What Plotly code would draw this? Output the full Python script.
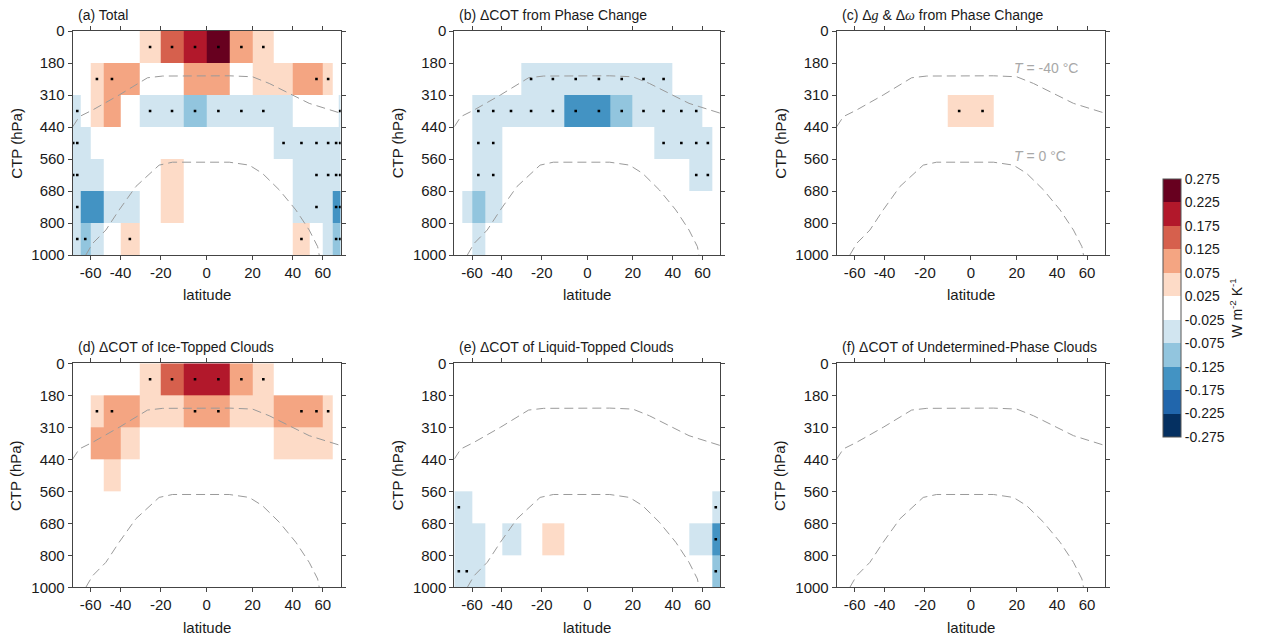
import numpy as np
import plotly.graph_objects as go

# ---------------- data ----------------
lat_edges = list(range(-90, 91, 10))          # 18 latitude bins
lat_centers = list(range(-85, 86, 10))
ctp_edges = [0, 180, 310, 440, 560, 680, 800, 1000]
ctp_labels = ["0", "180", "310", "440", "560", "680", "800", "1000"]
lat_ticks = [-60, -40, -20, 0, 20, 40, 60]
lat_ticklabels = ["-60", "-40", "-20", "0", "20", "40", "60"]

panel_titles = [
    "(a) Total",
    "(b) ΔCOT from Phase Change",
    "(c) Δ<span style='font-family:Liberation Serif'><i>g</i></span> & Δ<span style='font-family:Liberation Serif'><i>ω</i></span> from Phase Change",
    "(d) ΔCOT of Ice-Topped Clouds",
    "(e) ΔCOT of Liquid-Topped Clouds",
    "(f) ΔCOT of Undetermined-Phase Clouds",
]

# rows: CTP bins (0-180 ... 800-1000); columns: latitude bins -85 ... 85
total = [
    [0, 0, 0, 0, 0, 0, .05, .15, .2, .25, .1, .05, 0, 0, 0, 0, 0, 0],
    [0, 0, 0, .05, .1, .1, 0, 0, .1, .1, 0, .05, .05, .1, .1, .05, 0, 0],
    [-.05, -.05, 0, .05, .1, 0, -.05, -.05, -.1, -.05, -.05, -.05, -.05, 0, 0, 0, 0, -.05],
    [-.05, -.05, -.05, 0, 0, 0, 0, 0, 0, 0, 0, 0, -.05, -.05, -.05, -.05, -.05, -.05],
    [-.05, -.05, -.05, -.05, 0, 0, 0, .05, 0, 0, 0, 0, 0, -.05, -.05, -.05, -.05, -.05],
    [-.05, -.05, -.15, -.15, -.05, -.05, 0, .05, 0, 0, 0, 0, 0, -.05, -.05, -.05, -.15, -.15],
    [-.05, -.05, -.1, -.05, 0, .05, 0, 0, 0, 0, 0, 0, 0, .05, 0, -.05, -.1, -.1],
]
cot_phase = [
    [0] * 18,
    [0, 0, 0, 0, 0, 0, -.05, -.05, -.05, -.05, -.05, -.05, -.05, 0, 0, 0, 0, 0],
    [0, 0, 0, -.05, -.05, -.05, -.05, -.05, -.15, -.15, -.1, -.05, -.05, -.05, -.05, 0, 0, 0],
    [0, 0, 0, -.05, -.05, 0, 0, 0, 0, 0, 0, 0, -.05, -.05, -.05, -.05, 0, 0],
    [0, 0, 0, -.05, -.05, 0, 0, 0, 0, 0, 0, 0, 0, 0, -.05, -.05, 0, 0],
    [0, 0, -.05, -.1, -.05, 0, 0, 0, 0, 0, 0, 0, 0, 0, 0, 0, 0, 0],
    [0, 0, 0, -.05, 0, 0, 0, 0, 0, 0, 0, 0, 0, 0, 0, 0, 0, 0],
]
g_omega_phase = [
    [0] * 18,
    [0] * 18,
    [0, 0, 0, 0, 0, 0, 0, 0, .05, .05, 0, 0, 0, 0, 0, 0, 0, 0],
    [0] * 18,
    [0] * 18,
    [0] * 18,
    [0] * 18,
]
cot_ice = [
    [0, 0, 0, 0, 0, 0, .05, .15, .2, .2, .1, .05, 0, 0, 0, 0, 0, 0],
    [0, 0, 0, .05, .1, .1, .05, .05, .1, .1, .05, .05, .1, .1, .1, .05, 0, 0],
    [0, 0, 0, .1, .1, .05, 0, 0, 0, 0, 0, 0, .05, .05, .05, .05, 0, 0],
    [0, 0, 0, 0, .05, 0, 0, 0, 0, 0, 0, 0, 0, 0, 0, 0, 0, 0],
    [0] * 18,
    [0] * 18,
    [0] * 18,
]
cot_liquid = [
    [0] * 18,
    [0] * 18,
    [0] * 18,
    [0] * 18,
    [-.05, -.05, -.05, 0, 0, 0, 0, 0, 0, 0, 0, 0, 0, 0, 0, 0, -.05, -.05],
    [-.05, -.05, -.05, -.05, 0, -.05, 0, .05, 0, 0, 0, 0, 0, 0, -.05, -.05, -.15, -.15],
    [-.05, -.05, -.05, -.05, 0, 0, 0, 0, 0, 0, 0, 0, 0, 0, 0, 0, -.1, -.1],
]
cot_undet = [[0] * 18 for _ in range(7)]

# significance stippling: (CTP bin row, latitude of bin centre)
dots_total = {0: [-25, -15, -5, 5, 15, 25], 1: [-55, -45, 55, 65],
              2: [-75, -25, -15, -5, 5, 15, 25, 85],
              3: [-85, -75, 35, 45, 55, 65, 75, 85],
              4: [-85, -75, 55, 65, 75, 85], 5: [-75, 55, 75, 85],
              6: [-75, -65, -35, 45, 75, 85]}
dots_cot_phase = {1: [-25, -15, -5, 5, 15, 25, 35],
                  2: [-55, -45, -35, -25, -15, -5, 5, 15, 25, 35, 45, 55],
                  3: [-55, -45, 35, 45, 55, 65], 4: [-55, -45, 55, 65]}
dots_g_omega = {2: [-5, 5]}
dots_ice = {0: [-25, -15, -5, 5, 15, 25], 1: [-55, -45, -5, 5, 45, 55, 65]}
dots_liquid = {4: [-75, 75], 5: [75], 6: [-75, -65, 75]}
dots_undet = {}

# isotherms (latitude, pressure hPa)
t40_lat = [-90, -72, -58.4, -40.8, -26.2, -19.2, 9.7, 20, 27.8, 38, 49.9, 90]
t40_hpa = [439, 398, 371, 310, 240, 233, 232, 236, 263, 304, 344, 384]
t0_lat = [-64.4, -58.4, -48.8, -40.8, -31.9, -20.8, -14.8, 9.7, 18.5, 24.6, 32.8, 41.7, 49.9, 53.3, 55.9, 57.1]
t0_hpa = [1000, 928, 844, 751, 663, 583, 572, 572, 583, 614, 676, 751, 844, 906, 948, 1000]

cbar_ticks = [-0.275, -0.225, -0.175, -0.125, -0.075, -0.025, 0.025, 0.075, 0.125, 0.175, 0.225, 0.275]
cbar_colors = ["#053061", "#2166ac", "#4393c3", "#92c5de", "#d1e5f0", "#ffffff",
               "#fddbc7", "#f4a582", "#d6604d", "#b2182b", "#67001f"]

panels = [total, cot_phase, g_omega_phase, cot_ice, cot_liquid, cot_undet]
panel_dots = [dots_total, dots_cot_phase, dots_g_omega, dots_ice, dots_liquid, dots_undet]

# ---------------- figure ----------------
W, H = 1262, 636
FONT = "Liberation Sans, Arial, Helvetica, sans-serif"
TXT = "#1a1a1a"


def sx(lat):
    return np.sin(np.radians(np.asarray(lat, dtype=float)))


def ctp_pos(p):
    return np.interp(p, ctp_edges, list(range(len(ctp_edges))))


x_edges = sx(lat_edges)
y_edges = list(range(len(ctp_edges)))

col_px = [(72.7, 340.7), (454.3, 720.3), (836.7, 1105.0)]
row_px = [(31.0, 255.0), (363.3, 587.3)]

n = len(cbar_colors)
cscale = []
for i, c in enumerate(cbar_colors):
    cscale.append([i / n, c])
    cscale.append([(i + 1) / n, c])

fig = go.Figure()
annotations = []
for k in range(6):
    r, c = divmod(k, 3)
    xa = "x" if k == 0 else f"x{k+1}"
    ya = "y" if k == 0 else f"y{k+1}"
    fig.add_trace(go.Heatmap(z=panels[k], x=x_edges, y=y_edges, coloraxis="coloraxis",
                             xaxis=xa, yaxis=ya, hoverinfo="skip"))
    for curve_lat, curve_p in ((t40_lat, t40_hpa), (t0_lat, t0_hpa)):
        fig.add_trace(go.Scatter(x=sx(curve_lat), y=ctp_pos(curve_p), mode="lines",
                                 line=dict(color="#9a9a9a", width=1, dash="9px,5px"),
                                 xaxis=xa, yaxis=ya, showlegend=False, hoverinfo="skip"))
    dx, dy = [], []
    for row, lats in panel_dots[k].items():
        for la in lats:
            dx.append(float(sx(la)))
            dy.append(row + 0.5)
    fig.add_trace(go.Scatter(x=dx, y=dy, mode="markers",
                             marker=dict(color="black", size=2.6, symbol="square"),
                             xaxis=xa, yaxis=ya, showlegend=False, hoverinfo="skip"))

    x0, x1 = col_px[c]
    y0, y1 = row_px[r]
    axcommon = dict(showline=True, mirror="ticks", linecolor="#444", linewidth=1,
                    ticks="outside", ticklen=4, tickcolor="#444", tickwidth=1,
                    showgrid=False, zeroline=False, automargin=False,
                    tickfont=dict(family=FONT, size=15, color=TXT))
    fig.layout[("xaxis" if k == 0 else f"xaxis{k+1}")] = dict(
        domain=[x0 / W, x1 / W], range=[-1, 1], anchor=ya,
        tickmode="array", tickvals=sx(lat_ticks), ticktext=lat_ticklabels, **axcommon)
    fig.layout[("yaxis" if k == 0 else f"yaxis{k+1}")] = dict(
        domain=[1 - y1 / H, 1 - y0 / H], range=[7, 0], anchor=xa,
        tickmode="array", tickvals=y_edges, ticktext=ctp_labels, **axcommon)

    annotations.append(dict(text=panel_titles[k], x=(x0 + 3) / W, y=1 - (y0 - 16) / H,
                            xref="paper", yref="paper", xanchor="left", yanchor="middle",
                            showarrow=False, font=dict(family=FONT, size=14, color=TXT)))
    annotations.append(dict(text="CTP (hPa)", x=(x0 - 57) / W, y=1 - (y0 + y1) / 2 / H,
                            xref="paper", yref="paper", xanchor="center", yanchor="middle",
                            textangle=-90, showarrow=False,
                            font=dict(family=FONT, size=15, color=TXT)))
    annotations.append(dict(text="latitude", x=(x0 + x1) / 2 / W, y=1 - (y1 + 40) / H,
                            xref="paper", yref="paper", xanchor="center", yanchor="middle",
                            showarrow=False, font=dict(family=FONT, size=15, color=TXT)))

annotations.append(dict(text="<i>T</i> = -40 °C", x=1011.5 / W, y=1 - 68 / H, xref="paper",
                        yref="paper", xanchor="left", yanchor="middle", showarrow=False,
                        font=dict(family=FONT, size=14, color="#a8a8a8")))
annotations.append(dict(text="<i>T</i> = 0 °C", x=1011.5 / W, y=1 - 156 / H, xref="paper",
                        yref="paper", xanchor="left", yanchor="middle", showarrow=False,
                        font=dict(family=FONT, size=14, color="#a8a8a8")))

fig.update_layout(
    width=W, height=H,
    margin=dict(l=0, r=0, t=0, b=0),
    paper_bgcolor="white", plot_bgcolor="white",
    showlegend=False,
    annotations=annotations,
    coloraxis=dict(
        cmin=-0.275, cmax=0.275, colorscale=cscale,
        colorbar=dict(
            x=1163.3 / W, xanchor="left", xpad=0,
            y=1 - 308 / H, yanchor="middle", ypad=0,
            len=258 / H, lenmode="fraction",
            thickness=18, thicknessmode="pixels",
            outlinewidth=1, outlinecolor="#555",
            tickmode="array", tickvals=cbar_ticks,
            ticktext=[f"{v:.3f}" for v in cbar_ticks],
            ticks="", tickfont=dict(family=FONT, size=14, color=TXT),
            title=dict(text="W m<sup>-2</sup> K<sup>-1</sup>", side="right",
                       font=dict(family=FONT, size=14, color=TXT)),
        ),
    ),
    font=dict(family=FONT, color=TXT),
)

fig.write_html("out.html")
